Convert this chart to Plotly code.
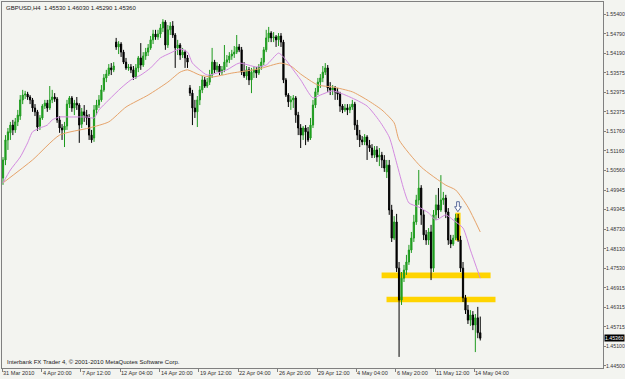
import plotly.graph_objects as go

# ---------------- data (GBPUSD H4, 31 Mar - 14 May 2010) ----------------
opens = [1.5032,1.5088,1.5150,1.5172,1.5196,1.5181,1.5206,1.5224,1.5274,1.5289,
1.5292,1.5283,1.5274,1.5249,1.5237,1.5193,1.5218,1.5255,1.5264,1.5249,
1.5274,1.5283,1.5277,1.5212,1.5187,1.5181,1.5193,1.5261,1.5280,1.5249,
1.5264,1.5258,1.5199,1.5237,1.5227,1.5218,1.5165,1.5156,1.5243,1.5258,
1.5274,1.5305,1.5342,1.5354,1.5373,1.5367,1.5453,1.5438,1.5447,1.5422,
1.5391,1.5373,1.5376,1.5367,1.5345,1.5373,1.5404,1.5382,1.5410,1.5422,
1.5435,1.5460,1.5478,1.5469,1.5478,1.5497,1.5515,1.5444,1.5491,1.5503,
1.5475,1.5435,1.5444,1.5413,1.5422,1.5404,1.5311,1.5295,1.5249,1.5237,
1.5274,1.5305,1.5336,1.5317,1.5329,1.5351,1.5391,1.5367,1.5379,1.5360,
1.5367,1.5391,1.5398,1.5410,1.5416,1.5422,1.5438,1.5429,1.5360,1.5348,
1.5367,1.5336,1.5360,1.5367,1.5357,1.5376,1.5391,1.5429,1.5466,1.5481,
1.5466,1.5469,1.5460,1.5472,1.5453,1.5336,1.5289,1.5268,1.5274,1.5280,
1.5227,1.5187,1.5165,1.5187,1.5175,1.5156,1.5196,1.5258,1.5299,1.5329,
1.5342,1.5360,1.5373,1.5311,1.5305,1.5311,1.5299,1.5292,1.5255,1.5243,
1.5249,1.5243,1.5252,1.5261,1.5196,1.5165,1.5150,1.5144,1.5159,1.5134,
1.5125,1.5103,1.5119,1.5097,1.5103,1.5088,1.5051,1.5072,1.4933,1.4846,
1.4896,1.4753,1.4654,1.4722,1.4747,1.4772,1.4809,1.4846,1.4896,1.4964,
1.5001,1.4918,1.4856,1.4840,1.4865,1.4753,1.4918,1.4949,1.4933,1.4964,
1.4970,1.4927,1.4840,1.4828,1.4846,1.4908,1.4840,1.4753,1.4661,1.4623,
1.4592,1.4608,1.4577,1.4599,1.4553]

highs = [1.5097,1.5165,1.5187,1.5206,1.5212,1.5218,1.5243,1.5289,1.5305,1.5302,
1.5299,1.5289,1.5280,1.5261,1.5243,1.5227,1.5261,1.5274,1.5274,1.5317,
1.5305,1.5295,1.5283,1.5224,1.5199,1.5206,1.5274,1.5286,1.5286,1.5274,
1.5283,1.5264,1.5249,1.5258,1.5243,1.5230,1.5181,1.5258,1.5274,1.5289,
1.5320,1.5354,1.5367,1.5385,1.5388,1.5391,1.5466,1.5456,1.5453,1.5429,
1.5404,1.5385,1.5385,1.5379,1.5385,1.5410,1.5450,1.5422,1.5435,1.5447,
1.5472,1.5491,1.5491,1.5491,1.5509,1.5524,1.5521,1.5506,1.5515,1.5518,
1.5481,1.5460,1.5450,1.5435,1.5429,1.5413,1.5320,1.5305,1.5274,1.5286,
1.5317,1.5348,1.5345,1.5342,1.5367,1.5435,1.5398,1.5391,1.5385,1.5379,
1.5444,1.5413,1.5422,1.5429,1.5441,1.5475,1.5447,1.5438,1.5391,1.5379,
1.5376,1.5373,1.5379,1.5376,1.5385,1.5404,1.5438,1.5491,1.5500,1.5487,
1.5484,1.5475,1.5481,1.5481,1.5460,1.5342,1.5295,1.5286,1.5289,1.5286,
1.5237,1.5199,1.5193,1.5196,1.5190,1.5218,1.5274,1.5311,1.5342,1.5354,
1.5379,1.5388,1.5382,1.5329,1.5320,1.5317,1.5311,1.5299,1.5261,1.5261,
1.5261,1.5261,1.5274,1.5268,1.5212,1.5181,1.5162,1.5168,1.5165,1.5150,
1.5137,1.5131,1.5131,1.5125,1.5113,1.5103,1.5088,1.5088,1.4949,1.4914,
1.4921,1.4772,1.4741,1.4763,1.4794,1.4825,1.4865,1.4918,1.4980,1.5057,
1.5010,1.4933,1.4871,1.4877,1.4887,1.4933,1.4980,1.5001,1.5041,1.4989,
1.4980,1.4939,1.4856,1.4856,1.4921,1.4921,1.4853,1.4772,1.4670,1.4639,
1.4623,1.4620,1.4611,1.4633,1.4603]

lows = [1.5011,1.5072,1.5119,1.5150,1.5165,1.5172,1.5193,1.5212,1.5261,1.5277,
1.5274,1.5261,1.5237,1.5224,1.5178,1.5181,1.5212,1.5246,1.5237,1.5243,
1.5264,1.5268,1.5203,1.5172,1.5150,1.5128,1.5181,1.5249,1.5237,1.5227,
1.5243,1.5141,1.5187,1.5206,1.5196,1.5150,1.5141,1.5144,1.5227,1.5249,
1.5268,1.5299,1.5329,1.5348,1.5351,1.5360,1.5429,1.5416,1.5407,1.5385,
1.5367,1.5364,1.5357,1.5336,1.5339,1.5360,1.5367,1.5376,1.5398,1.5410,
1.5429,1.5447,1.5460,1.5460,1.5466,1.5484,1.5429,1.5435,1.5475,1.5466,
1.5373,1.5413,1.5398,1.5404,1.5373,1.5373,1.5286,1.5196,1.5218,1.5190,
1.5258,1.5295,1.5311,1.5311,1.5320,1.5342,1.5357,1.5360,1.5351,1.5351,
1.5360,1.5376,1.5388,1.5398,1.5404,1.5416,1.5422,1.5351,1.5342,1.5336,
1.5320,1.5295,1.5342,1.5342,1.5351,1.5367,1.5382,1.5422,1.5453,1.5453,
1.5453,1.5438,1.5441,1.5438,1.5326,1.5283,1.5252,1.5243,1.5249,1.5203,
1.5165,1.5125,1.5150,1.5134,1.5144,1.5150,1.5187,1.5249,1.5289,1.5311,
1.5329,1.5351,1.5299,1.5289,1.5289,1.5274,1.5274,1.5237,1.5233,1.5237,
1.5227,1.5233,1.5243,1.5181,1.5150,1.5128,1.5134,1.5134,1.5088,1.5113,
1.5094,1.5094,1.5082,1.5069,1.5063,1.5051,1.5032,1.4918,1.4834,1.4840,
1.4741,1.4478,1.4639,1.4710,1.4732,1.4763,1.4800,1.4834,1.4887,1.4949,
1.4887,1.4840,1.4825,1.4825,1.4716,1.4741,1.4902,1.4908,1.4927,1.4949,
1.4908,1.4825,1.4815,1.4822,1.4840,1.4834,1.4741,1.4648,1.4611,1.4580,
1.4574,1.4561,1.4493,1.4536,1.4529]

closes = [1.5088,1.5150,1.5175,1.5196,1.5181,1.5206,1.5227,1.5274,1.5289,1.5292,
1.5283,1.5274,1.5249,1.5237,1.5190,1.5218,1.5255,1.5264,1.5249,1.5274,
1.5283,1.5277,1.5212,1.5187,1.5181,1.5193,1.5261,1.5280,1.5249,1.5264,
1.5258,1.5196,1.5237,1.5227,1.5218,1.5165,1.5150,1.5243,1.5258,1.5274,
1.5305,1.5342,1.5354,1.5373,1.5367,1.5379,1.5438,1.5447,1.5422,1.5391,
1.5373,1.5376,1.5367,1.5345,1.5373,1.5404,1.5382,1.5410,1.5422,1.5435,
1.5460,1.5478,1.5469,1.5478,1.5497,1.5515,1.5444,1.5491,1.5503,1.5475,
1.5435,1.5444,1.5413,1.5422,1.5404,1.5391,1.5295,1.5249,1.5237,1.5274,
1.5305,1.5336,1.5317,1.5329,1.5351,1.5391,1.5367,1.5379,1.5360,1.5367,
1.5391,1.5398,1.5410,1.5416,1.5422,1.5438,1.5429,1.5360,1.5348,1.5367,
1.5336,1.5360,1.5367,1.5357,1.5376,1.5391,1.5429,1.5466,1.5481,1.5466,
1.5469,1.5460,1.5472,1.5453,1.5336,1.5289,1.5268,1.5274,1.5280,1.5227,
1.5187,1.5165,1.5187,1.5175,1.5150,1.5196,1.5258,1.5299,1.5329,1.5342,
1.5360,1.5373,1.5311,1.5305,1.5311,1.5299,1.5292,1.5255,1.5243,1.5249,
1.5243,1.5252,1.5261,1.5196,1.5165,1.5150,1.5144,1.5159,1.5134,1.5125,
1.5103,1.5119,1.5097,1.5103,1.5088,1.5063,1.5072,1.4933,1.4846,1.4896,
1.4753,1.4654,1.4722,1.4747,1.4772,1.4809,1.4846,1.4896,1.4964,1.5001,
1.4918,1.4856,1.4840,1.4865,1.4753,1.4918,1.4949,1.4933,1.4964,1.4970,
1.4927,1.4840,1.4828,1.4846,1.4908,1.4840,1.4753,1.4661,1.4623,1.4592,
1.4608,1.4577,1.4599,1.4553,1.4536]

bars = list(range(len(closes)))

# moving averages (bar index, price)
ma_fast_bars = [0,3,7,10,12,15,18,20,23,28,34,37,39,43,48,52,56,60,64,68,
                72,75,77,80,83,91,96,103,107,112,114,118,121,126,129,134,141,148,153,157,
                160,163,165,169,173,176,180,183,187,190,194]
ma_fast = [1.5017,1.5057,1.5097,1.5141,1.5175,1.5187,1.5196,1.5212,1.5221,1.5221,
           1.5221,1.5218,1.5243,1.5274,1.5311,1.5336,1.5351,1.5373,1.5404,1.5419,
           1.5432,1.5422,1.5388,1.5367,1.5351,1.5367,1.5388,1.5376,1.5382,1.5419,
           1.5407,1.5367,1.5336,1.5280,1.5289,1.5302,1.5283,1.5255,1.5209,1.5159,
           1.5079,1.4995,1.4955,1.4942,1.4924,1.4902,1.4918,1.4902,1.4877,1.4809,
           1.4722]
ma_slow_bars = [0,12,23,35,43,50,59,67,72,75,80,85,93,104,113,117,121,128,134,142,
                148,154,159,161,170,180,184,189,194]
ma_slow = [1.5017,1.5088,1.5165,1.5187,1.5206,1.5252,1.5289,1.5329,1.5360,1.5367,
           1.5351,1.5345,1.5357,1.5370,1.5388,1.5379,1.5354,1.5320,1.5314,1.5299,
           1.5274,1.5243,1.5203,1.5150,1.5066,1.5010,1.4995,1.4942,1.4865]

ytick_vals = [1.55400,1.54790,1.54190,1.53575,1.52975,1.52375,1.51760,1.51160,1.50560,
              1.49945,1.49345,1.48730,1.48130,1.47530,1.46915,1.46315,1.45715,1.45100,1.44500]
ytick_text = ["%.5f" % v for v in ytick_vals]

xtick_labels = ["31 Mar 2010","4 Apr 20:00","7 Apr 12:00","12 Apr 04:00","14 Apr 20:00",
                "19 Apr 12:00","22 Apr 04:00","26 Apr 20:00","29 Apr 12:00","4 May 04:00",
                "6 May 20:00","11 May 12:00","14 May 04:00"]
xtick_bars = [16 * i - 0.35 for i in range(len(xtick_labels))]

last_price = 1.45360
title_text = "GBPUSD,H4  1.45530 1.46030 1.45290 1.45360"
copyright_text = "Interbank FX Trader 4, \u00a9 2001-2010 MetaQuotes Software Corp."

# ---------------- figure ----------------
BG = "#f3f4f0"
FONT = "Liberation Sans"
AXC = "#808080"
YFS = 5.2

fig = go.Figure()
fig.add_trace(go.Candlestick(
    x=bars, open=opens, high=highs, low=lows, close=closes,
    increasing=dict(line=dict(color="#1e9a1e", width=1), fillcolor="#22a822"),
    decreasing=dict(line=dict(color="#000000", width=1), fillcolor="#000000"),
    whiskerwidth=0, hoverinfo="skip"))
fig.add_trace(go.Scatter(x=ma_slow_bars, y=ma_slow, mode="lines",
                         line=dict(color="#e6a36a", width=1, shape="spline", smoothing=0.6),
                         hoverinfo="skip"))
fig.add_trace(go.Scatter(x=ma_fast_bars, y=ma_fast, mode="lines",
                         line=dict(color="#d38ae0", width=1, shape="spline", smoothing=0.6),
                         hoverinfo="skip"))

YEL = "#ffd400"
shapes = [
    dict(type="rect", xref="x", yref="y", x0=153.9, x1=198.2, y0=1.47215, y1=1.47395,
         fillcolor=YEL, line=dict(width=0), layer="below"),
    dict(type="rect", xref="x", yref="y", x0=155.9, x1=200.2, y0=1.46472, y1=1.46645,
         fillcolor=YEL, line=dict(width=0), layer="below"),
    dict(type="rect", xref="x", yref="y", x0=183.9, x1=186.0, y0=1.48380, y1=1.49247,
         fillcolor=YEL, line=dict(width=0), layer="below"),
    dict(type="path", xref="x", yref="y",
         path="M 184.4 1.49587 L 185.5 1.49587 L 185.5 1.49432 L 186.3 1.49432 "
              "L 184.9 1.49277 L 183.6 1.49432 L 184.4 1.49432 Z",
         fillcolor="#ffffff", line=dict(color="#5b6b9b", width=1), layer="above"),
]

annotations = []
for b, t in zip(xtick_bars, xtick_labels):
    annotations.append(dict(x=b, y=0, xref="x", yref="paper", text=t, showarrow=False,
                            xanchor="left", yanchor="top", xshift=-1, yshift=0,
                            font=dict(family=FONT, size=5.6, color="#333333")))
annotations.append(dict(x=0, y=1, xref="paper", yref="paper", text=title_text,
                        showarrow=False, xanchor="left", yanchor="top", xshift=2, yshift=-1,
                        font=dict(family=FONT, size=6, color="#202020")))
annotations.append(dict(x=0, y=0, xref="paper", yref="paper", text=copyright_text,
                        showarrow=False, xanchor="left", yanchor="bottom", xshift=3, yshift=1,
                        font=dict(family=FONT, size=6, color="#202020")))
annotations.append(dict(x=1, y=last_price, xref="paper", yref="y", text="%.5f" % last_price,
                        showarrow=False, xanchor="left", yanchor="middle", xshift=1,
                        bgcolor="#000000", borderpad=0,
                        font=dict(family=FONT, size=YFS, color="#ffffff")))

fig.update_layout(
    width=625, height=379,
    margin=dict(l=2, r=22, t=2, b=11, autoexpand=False),
    paper_bgcolor=BG, plot_bgcolor=BG,
    showlegend=False,
    font=dict(family=FONT, size=6, color="#333333"),
    shapes=shapes, annotations=annotations,
    xaxis=dict(range=[-0.41, 243.9], showgrid=False, zeroline=False, automargin=False,
               showline=True, linecolor=AXC, linewidth=1, mirror=True,
               tickvals=xtick_bars, ticks="outside", ticklen=3, tickcolor=AXC,
               showticklabels=False, rangeslider=dict(visible=False), fixedrange=True),
    yaxis=dict(range=[1.44437, 1.55772], side="right", showgrid=False, zeroline=False,
               automargin=False,
               showline=True, linecolor=AXC, linewidth=1, mirror=True,
               tickvals=ytick_vals, ticktext=ytick_text, ticks="outside", ticklen=2,
               ticklabelstandoff=-1,
               tickcolor=AXC, tickfont=dict(family=FONT, size=YFS, color="#333333"),
               fixedrange=True),
)

fig.write_html("out.html")
